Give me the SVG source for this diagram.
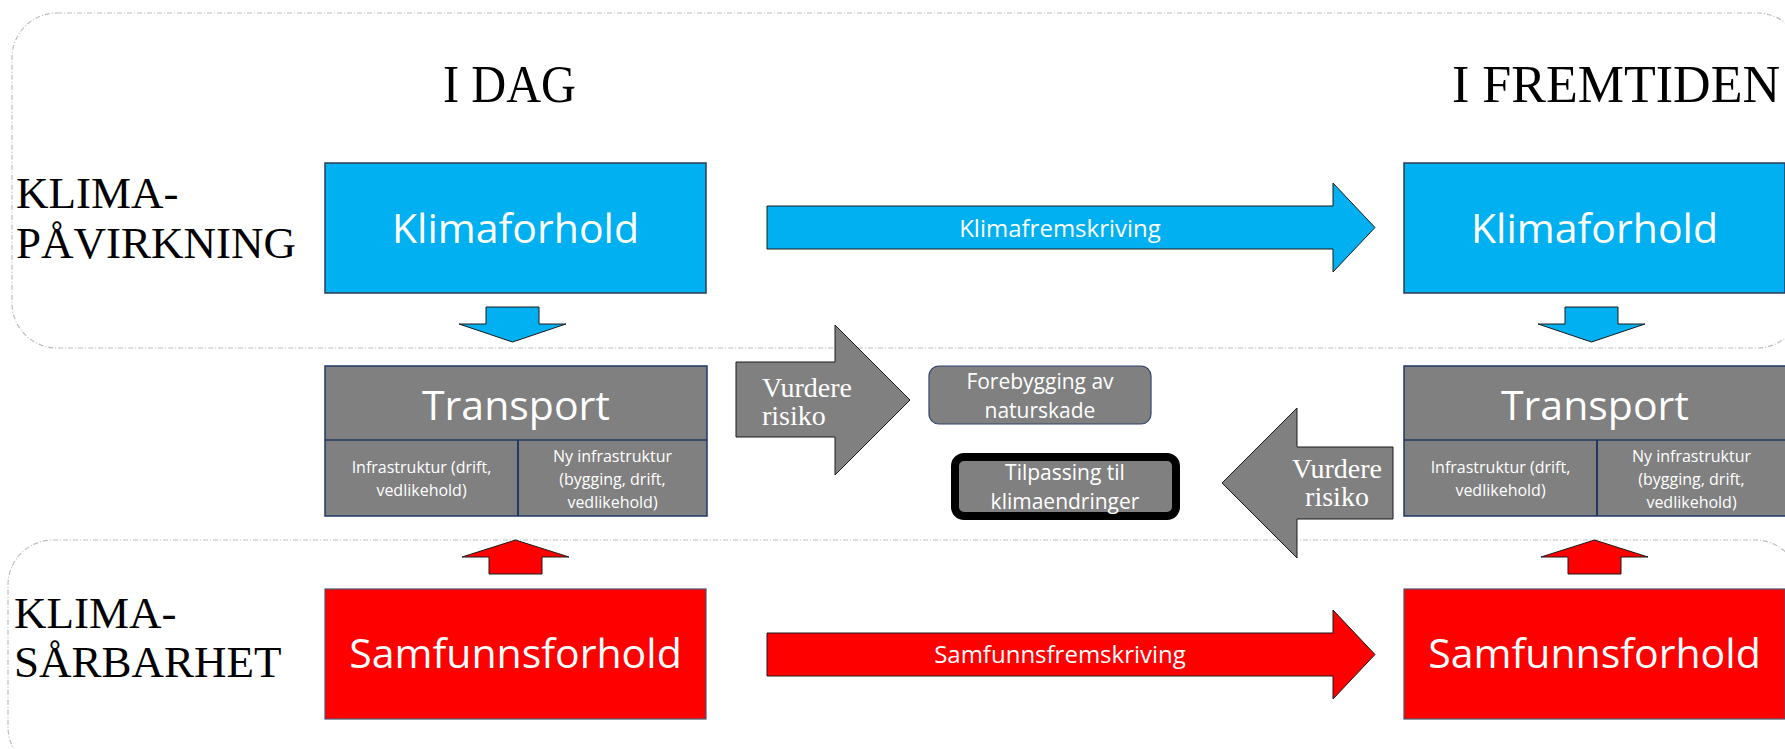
<svg xmlns="http://www.w3.org/2000/svg" width="1785" height="749" viewBox="0 0 1785 749">
<style>
.region{fill:none;stroke:#BDBDBD;stroke-width:1.2;stroke-dasharray:5 2 1 2}
.serif{font-family:"Liberation Serif","DejaVu Serif",serif;fill:#000}
.sans{font-family:"Open Sans","Noto Sans","Liberation Sans",sans-serif;fill:#fff;text-anchor:middle}
.blue{fill:#00B0F0;stroke:#2E3B55;stroke-width:1.5}
.red{fill:#FF0000;stroke:#4A5570;stroke-width:1.2}
.grey{fill:#808080;stroke:#1F3864;stroke-width:1.5}
.arrowBlue{fill:#00B0F0;stroke:#1a1a1a;stroke-width:1}
.arrowRed{fill:#FF0000;stroke:#1a1a1a;stroke-width:1}
.arrowGrey{fill:#808080;stroke:#1a1a1a;stroke-width:1}
.vr{font-family:"Liberation Serif","DejaVu Serif",serif;fill:#fff;font-size:28px}
.big{font-size:41px}
.mid{font-size:24px}
.small{font-size:16px}
.note{font-size:21px}
</style>

<g id="regions">
  <rect class="region" x="12" y="13" width="1790" height="335" rx="45"/>
  <rect class="region" x="8" y="540" width="1792" height="232" rx="45"/>
</g>

<g id="labels">
  <text class="serif" x="443" y="102" font-size="52" textLength="133" lengthAdjust="spacingAndGlyphs">I DAG</text>
  <text class="serif" x="1452" y="102" font-size="52" textLength="328" lengthAdjust="spacingAndGlyphs">I FREMTIDEN</text>
  <text class="serif" x="16" y="208" font-size="45">KLIMA-</text>
  <text class="serif" x="16" y="258" font-size="45">PÅVIRKNING</text>
  <text class="serif" x="14" y="628" font-size="45">KLIMA-</text>
  <text class="serif" x="14" y="677" font-size="45">SÅRBARHET</text>
</g>

<g id="connectors">
  <polygon class="arrowBlue" points="767,206 1333,206 1333,183 1375,227.5 1333,272 1333,249 767,249"/>
  <text class="sans mid" x="1060" y="237">Klimafremskriving</text>
  <polygon class="arrowRed" points="767,633 1333,633 1333,610 1375,654.5 1333,699 1333,676 767,676"/>
  <text class="sans mid" x="1060" y="663">Samfunnsfremskriving</text>
  <polygon class="arrowBlue" points="486,307 539,307 539,324 566,324 512.5,342 459,324 486,324"/>
  <polygon class="arrowBlue" points="1565,307 1618,307 1618,324 1645,324 1591.5,342 1538,324 1565,324"/>
  <polygon class="arrowRed" points="515.5,540 569,557 542,557 542,574 489,574 489,557 462,557"/>
  <polygon class="arrowRed" points="1594.5,540 1648,557 1621,557 1621,574 1568,574 1568,557 1541,557"/>
  <g id="vurdere-right">
    <polygon class="arrowGrey" points="736,362 835,362 835,325 910,400 835,475 835,437 736,437"/>
    <text class="vr" x="762" y="397">Vurdere</text>
    <text class="vr" x="762" y="425">risiko</text>
  </g>
  <g id="vurdere-left">
    <polygon class="arrowGrey" points="1393,447 1297,447 1297,408 1222,483 1297,558 1297,519 1393,519"/>
    <text class="vr" x="1337" y="478" text-anchor="middle">Vurdere</text>
    <text class="vr" x="1337" y="506" text-anchor="middle">risiko</text>
  </g>
</g>

<g id="klimaforhold-idag">
  <rect class="blue" x="325" y="163" width="381" height="130"/>
  <text class="sans big" x="515.5" y="243">Klimaforhold</text>
</g>
<g id="klimaforhold-fremtiden">
  <rect class="blue" x="1404" y="163" width="381" height="130"/>
  <text class="sans big" x="1594.5" y="243">Klimaforhold</text>
</g>

<g id="transport-idag">
  <rect class="grey" x="325" y="366" width="382" height="150"/>
  <line x1="325" y1="440" x2="707" y2="440" stroke="#1F3864" stroke-width="1.5"/>
  <line x1="518" y1="440" x2="518" y2="516" stroke="#1F3864" stroke-width="2"/>
  <text class="sans big" x="516" y="420">Transport</text>
  <text class="sans small" x="421.5" y="473">Infrastruktur (drift,</text>
  <text class="sans small" x="421.5" y="496">vedlikehold)</text>
  <text class="sans small" x="612.5" y="462">Ny infrastruktur</text>
  <text class="sans small" x="612.5" y="485">(bygging, drift,</text>
  <text class="sans small" x="612.5" y="508">vedlikehold)</text>
</g>
<g id="transport-fremtiden">
  <rect class="grey" x="1404" y="366" width="382" height="150"/>
  <line x1="1404" y1="440" x2="1786" y2="440" stroke="#1F3864" stroke-width="1.5"/>
  <line x1="1597" y1="440" x2="1597" y2="516" stroke="#1F3864" stroke-width="2"/>
  <text class="sans big" x="1595" y="420">Transport</text>
  <text class="sans small" x="1500.5" y="473">Infrastruktur (drift,</text>
  <text class="sans small" x="1500.5" y="496">vedlikehold)</text>
  <text class="sans small" x="1691.5" y="462">Ny infrastruktur</text>
  <text class="sans small" x="1691.5" y="485">(bygging, drift,</text>
  <text class="sans small" x="1691.5" y="508">vedlikehold)</text>
</g>

<g id="forebygging">
  <rect x="929" y="366" width="222" height="58" rx="10" fill="#808080" stroke="#2F4470" stroke-width="1.2"/>
  <text class="sans note" x="1040" y="389">Forebygging av</text>
  <text class="sans note" x="1040" y="418">naturskade</text>
</g>

<g id="tilpassing">
  <rect x="955" y="457" width="221" height="59" rx="9" fill="#808080" stroke="#000" stroke-width="8"/>
  <text class="sans note" x="1065" y="480">Tilpassing til</text>
  <text class="sans note" x="1065" y="509">klimaendringer</text>
</g>

<g id="samfunnsforhold-idag">
  <rect class="red" x="325" y="589" width="381" height="130"/>
  <text class="sans big" x="515.5" y="668">Samfunnsforhold</text>
</g>
<g id="samfunnsforhold-fremtiden">
  <rect class="red" x="1404" y="589" width="381" height="130"/>
  <text class="sans big" x="1594.5" y="668">Samfunnsforhold</text>
</g>
</svg>
